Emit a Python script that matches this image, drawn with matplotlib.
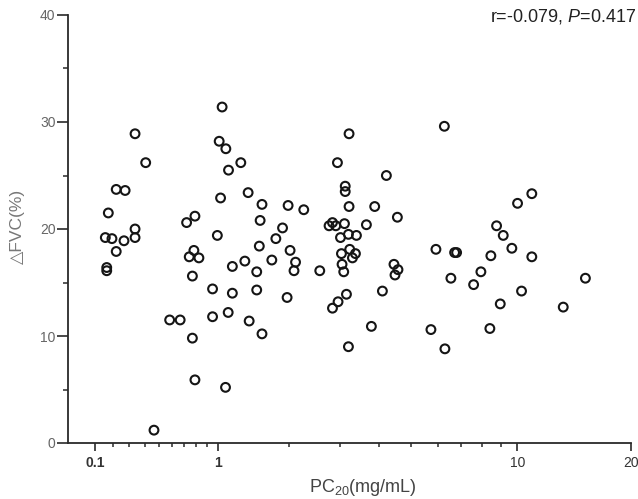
import numpy as np
import matplotlib
matplotlib.use("Agg")
import matplotlib.pyplot as plt
from matplotlib.ticker import FixedLocator, FixedFormatter, NullFormatter

plt.rcParams['font.family'] = ['Liberation Sans', 'DejaVu Sans']
plt.rcParams['mathtext.fontset'] = 'custom'
plt.rcParams['mathtext.rm'] = 'Liberation Sans'
plt.rcParams['mathtext.it'] = 'Liberation Sans:italic'

# ---- data: PC20 (mg/mL) vs delta FVC (%) ----
pc20 = [0.157, 0.195, 0.267, 0.174, 0.220, 0.274, 0.337, 0.408, 0.337, 0.337,
        0.220, 0.165, 0.165, 0.466, 0.582, 0.665, 0.718, 0.789, 0.780, 0.740,
        0.824, 0.767, 0.767, 0.789, 0.949, 0.949, 0.995, 1.049, 1.015, 1.093,
        1.279, 1.125, 1.031, 1.376, 1.571, 1.983, 2.261, 1.544, 1.890, 1.782,
        1.532, 2.017, 1.172, 1.332, 1.719, 1.495, 2.112, 2.085, 2.572, 1.172,
        1.495, 1.966, 1.121, 1.390, 1.571, 1.089,
        3.220, 2.950, 4.219, 3.129, 3.129, 3.220, 3.883, 4.556, 2.766, 2.840,
        2.913, 3.111, 3.658, 3.019, 3.205, 3.401, 3.236, 3.041, 3.376, 3.302,
        3.055, 3.094, 4.449, 4.575, 4.481, 3.158, 2.964, 2.840, 4.102, 3.792,
        3.205,
        6.259, 10.941, 10.010, 8.771, 9.149, 9.659, 5.919, 6.695, 6.783, 8.459,
        10.941, 6.534, 7.937, 7.574, 10.263, 15.20, 8.978, 13.28, 5.725, 8.405,
        6.282]
dfvc = [19.2, 19.1, 18.9, 21.5, 23.7, 23.6, 28.9, 26.2, 20.0, 19.2,
        17.9, 16.4, 16.1, 1.2, 11.5, 11.5, 20.6, 21.2, 18.0, 17.4,
        17.3, 15.6, 9.8, 5.9, 14.4, 11.8, 19.4, 31.4, 28.2, 27.5,
        26.2, 25.5, 22.9, 23.4, 22.3, 22.2, 21.8, 20.8, 20.1, 19.1,
        18.4, 18.0, 16.5, 17.0, 17.1, 16.0, 16.9, 16.1, 16.1, 14.0,
        14.3, 13.6, 12.2, 11.4, 10.2, 5.2,
        28.9, 26.2, 25.0, 24.0, 23.5, 22.1, 22.1, 21.1, 20.3, 20.6,
        20.3, 20.5, 20.4, 19.2, 19.5, 19.4, 18.1, 17.7, 17.7, 17.3,
        16.7, 16.0, 16.7, 16.2, 15.7, 13.9, 13.2, 12.6, 14.2, 10.9,
        9.0,
        29.6, 23.3, 22.4, 20.3, 19.4, 18.2, 18.1, 17.8, 17.8, 17.5,
        17.4, 15.4, 16.0, 14.8, 14.2, 15.4, 13.0, 12.7, 10.6, 10.7,
        8.8]

x_major = [0.1, 1, 10, 20]
x_major_labels = ['0.1', '1', '10', '20']
x_minor = [0.2, 0.3, 0.4, 0.5, 0.6, 0.7, 0.8, 0.9, 2, 3, 4, 5, 6, 7, 8, 9]
y_major = [0, 10, 20, 30, 40]
y_minor = [5, 15, 25, 35]
annotation = r'r=-0.079, $\mathit{P}$=0.417'

# ---- axis transform (compressed log of x+1, as in the original graph) ----
K1 = 474.0 / 405.0


def fwd(x):
    x = np.clip(np.asarray(x, dtype=float), -0.99, None)
    v = np.log10((x + 1.0) / 2.0)
    return np.where(v < 0, v * K1, v)


def inv(v):
    v = np.asarray(v, dtype=float)
    return np.where(v < 0, 2.0 * 10 ** (v / K1) - 1.0, 2.0 * 10 ** v - 1.0)


fig = plt.figure(figsize=(6.38, 4.99), dpi=100)
ax = fig.add_axes([68 / 638, 1 - 443 / 499, (631 - 68) / 638, (443 - 15) / 499])
ax.set_xscale('function', functions=(fwd, inv))

ax.scatter(pc20, dfvc, s=40, facecolors='none', edgecolors='#151515',
           linewidths=1.5, zorder=3, clip_on=False)

ax.set_xlim(-0.035, 20)
ax.set_ylim(0, 40)

for s in ['top', 'right']:
    ax.spines[s].set_visible(False)
for s in ['left', 'bottom']:
    ax.spines[s].set_linewidth(1.3)
    ax.spines[s].set_color('#2a2a2a')

ax.xaxis.set_major_locator(FixedLocator(x_major))
ax.xaxis.set_major_formatter(FixedFormatter(x_major_labels))
ax.xaxis.set_minor_locator(FixedLocator(x_minor))
ax.xaxis.set_minor_formatter(NullFormatter())
ax.yaxis.set_major_locator(FixedLocator(y_major))
ax.yaxis.set_minor_locator(FixedLocator(y_minor))
ax.yaxis.set_minor_formatter(NullFormatter())

ax.tick_params(axis='x', which='major', length=5.5, width=1.2, color='#2a2a2a',
               labelsize=10, labelcolor='#333333', pad=4)
ax.tick_params(axis='x', which='minor', length=3, width=1.1, color='#2a2a2a')
ax.tick_params(axis='y', which='major', length=8, width=1.2, color='#2a2a2a',
               labelsize=10, labelcolor='#666666', pad=1)
ax.tick_params(axis='y', which='minor', length=3.5, width=1.1, color='#2a2a2a')

for lab in ax.get_xticklabels()[:2]:
    lab.set_fontweight('bold')

ax.set_xlabel(r'PC$_{\mathregular{20}}$(mg/mL)', fontsize=13, color='#444444')
ax.xaxis.set_label_coords(0.524, -0.103)
ax.xaxis.label.set_va('center')

ax.set_ylabel('\u25b3FVC(%)', fontsize=12.5, color='#777777',
              family=['Liberation Sans', 'DejaVu Sans'])
ax.yaxis.set_label_coords(-0.0906, 0.507)
ax.yaxis.label.set_va('center')

fig.text(636 / 638, 1 - 17 / 499, annotation, ha='right', va='center',
         fontsize=13, color='#222222')

fig.savefig('out.png', dpi=100)
